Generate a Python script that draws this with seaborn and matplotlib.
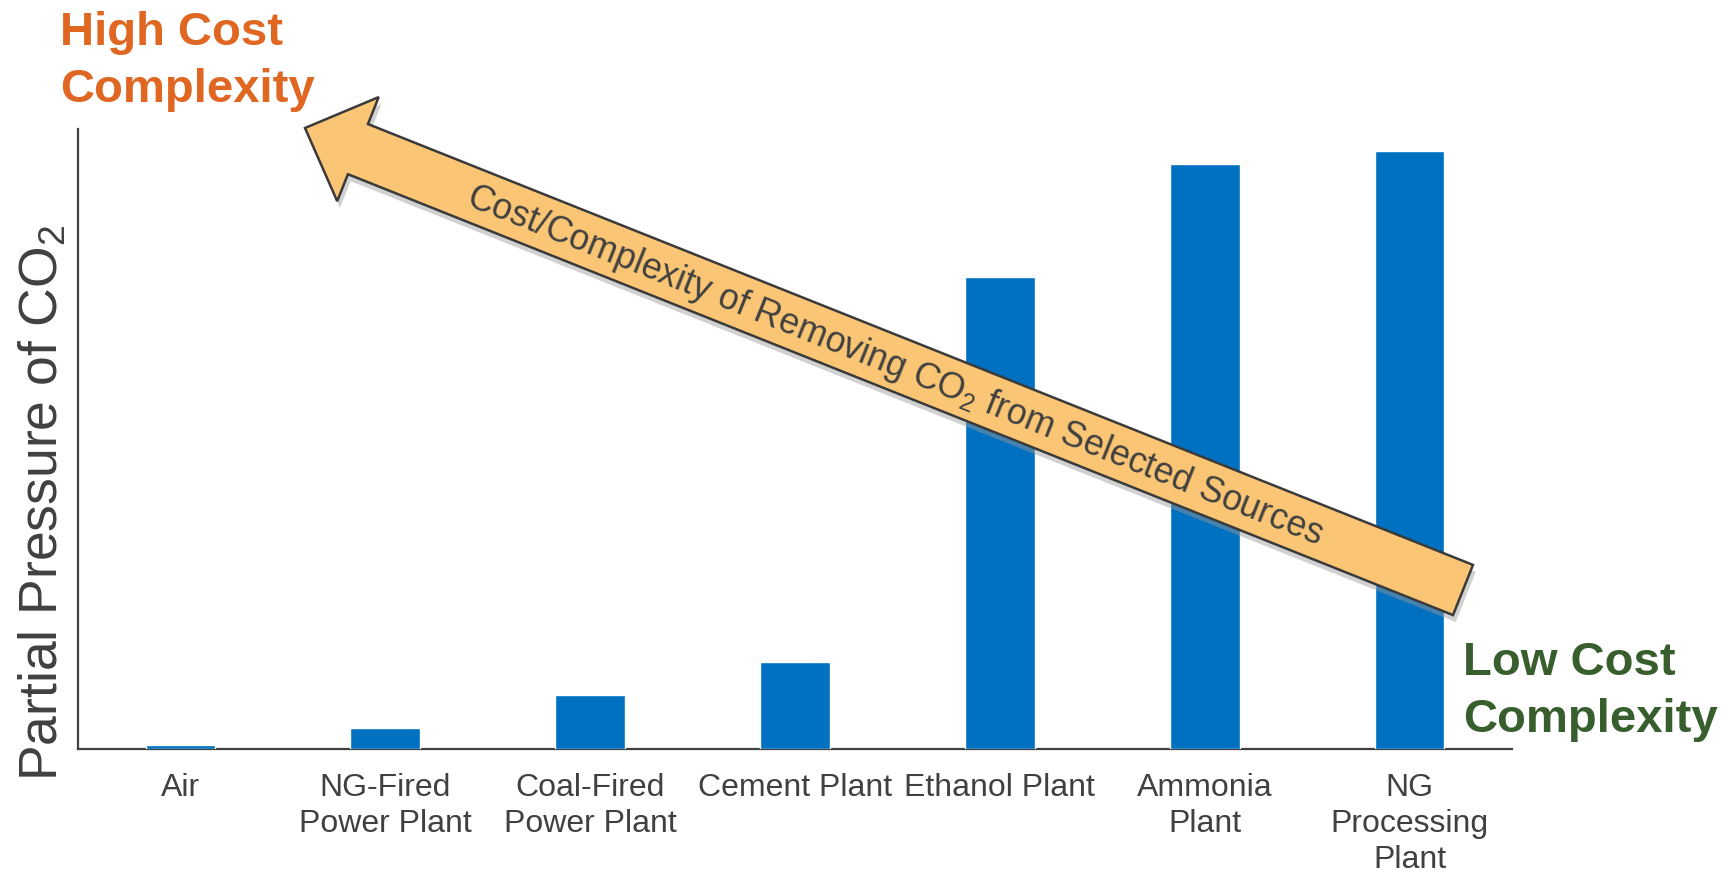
import numpy as np
import pandas as pd
import seaborn as sns
import matplotlib.pyplot as plt
from matplotlib.patches import FancyArrow
import matplotlib.patheffects as pe

# datos (escala relativa, NG Processing = 100)
fuentes = ["Air", "NG-Fired\nPower Plant", "Coal-Fired\nPower Plant", "Cement Plant",
           "Ethanol Plant", "Ammonia\nPlant", "NG\nProcessing\nPlant"]
presion = [0.6, 3.5, 9.0, 14.5, 78.9, 97.8, 100.0]

df = pd.DataFrame({"fuente": fuentes, "presion": presion})

sns.set_style("white")
plt.rcParams['font.family'] = ['Liberation Sans', 'DejaVu Sans']
plt.rcParams['mathtext.fontset'] = 'custom'
plt.rcParams['mathtext.rm'] = 'Liberation Sans'
plt.rcParams['mathtext.it'] = 'Liberation Sans'

gris = "#404040"
W, H = 1724, 873
fig = plt.figure(figsize=(W / 100, H / 100), dpi=100)
ax = fig.add_axes([78 / W, 1 - 749 / H, (1512 - 78) / W, (749 - 129) / H])

sns.barplot(data=df, x="fuente", y="presion", color="#0070C0", saturation=1,
            width=0.34, ax=ax)
ax.set_xlim(-0.5, 6.5)
ax.set_ylim(0, 103.7)
ax.set_xlabel("")
ax.set_ylabel("")
ax.set_yticks([])
ax.tick_params(axis="x", length=0, pad=17, labelsize=23, labelcolor=gris)
for lbl in ax.get_xticklabels():
    lbl.set_linespacing(1.27)
sns.despine(ax=ax)
for s in ["left", "bottom"]:
    ax.spines[s].set_color(gris)
    ax.spines[s].set_linewidth(1.6)
    ax.spines[s].set_zorder(0.5)

fig.text(43 / W, 1 - 503 / H, "Partial Pressure of CO$_2$", rotation=90,
         ha="center", va="center", fontsize=38.5, color=gris)

# capa superpuesta en pixeles para la flecha y los textos
ov = fig.add_axes([0, 0, 1, 1], zorder=5)
ov.set_xlim(0, W)
ov.set_ylim(H, 0)
ov.axis("off")

x0, y0 = 1463, 590
x1, y1 = 305, 128
flecha = FancyArrow(x0, y0, x1 - x0, y1 - y0, width=54, head_width=112,
                    head_length=57, length_includes_head=True,
                    facecolor="#FAC675", edgecolor="#3a3a3a", linewidth=1.8)
flecha.set_path_effects([pe.SimplePatchShadow(offset=(2, -5), shadow_rgbFace="#9a9a9a", alpha=0.45),
                         pe.Normal()])
ov.add_patch(flecha)

ang = np.degrees(np.arctan2(y1 - y0, -(x1 - x0)))
ov.text(895, 366, "Cost/Complexity of Removing CO$_2$ from Selected Sources",
        rotation=ang, rotation_mode="anchor", ha="center", va="center",
        fontsize=25.7, color=gris)

ov.text(60, 102, "High Cost\nComplexity", ha="left", va="baseline", fontsize=34,
        fontweight="bold", color="#E06722", linespacing=1.38)
ov.text(1463, 732, "Low Cost\nComplexity", ha="left", va="baseline", fontsize=34,
        fontweight="bold", color="#385E2E", linespacing=1.38)

fig.savefig("out.png", dpi=100)
